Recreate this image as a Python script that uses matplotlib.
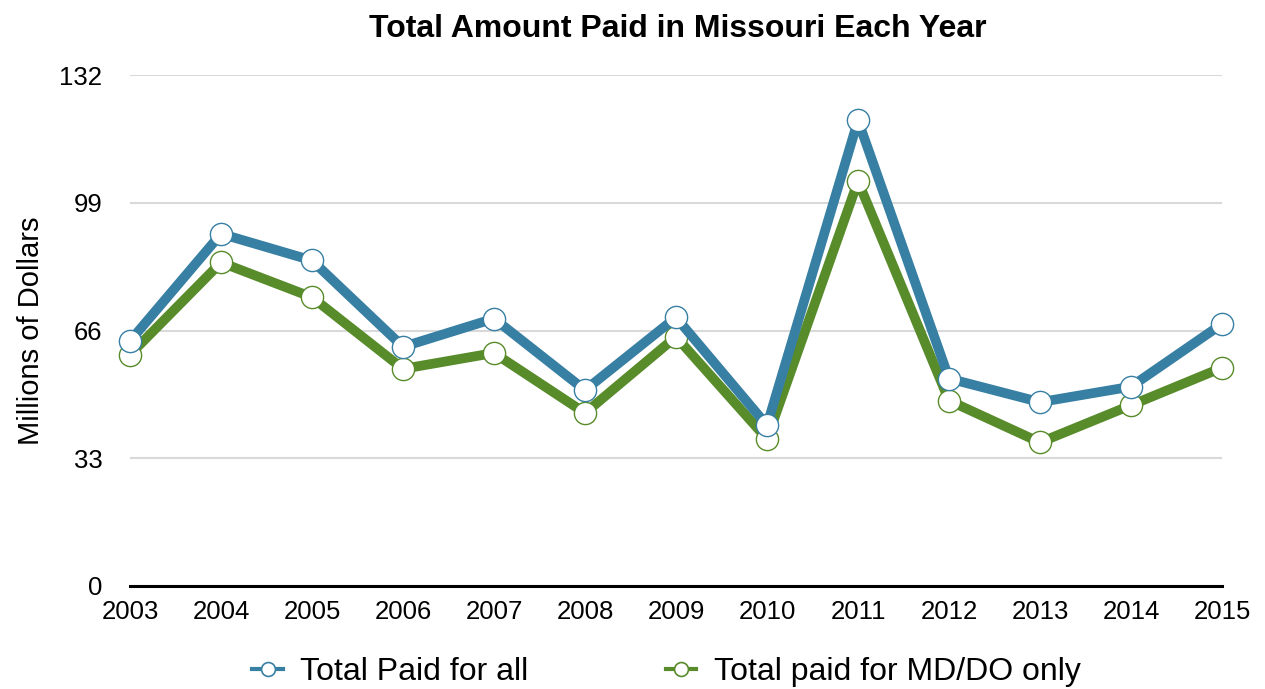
"""
Line chart of the total amount paid in Missouri each year (2003-2015).
Saves out.png.
"""

import matplotlib

matplotlib.use("Agg")
import matplotlib.pyplot as plt
from matplotlib.lines import Line2D

years = [2003, 2004, 2005, 2006, 2007, 2008, 2009, 2010, 2011, 2012, 2013, 2014, 2015]
total_all = [63.3, 91.0, 84.1, 61.8, 69.1, 50.6, 69.4, 41.5, 120.3, 53.6, 47.5, 51.5, 67.7]
total_mddo = [59.8, 83.6, 74.6, 56.1, 60.2, 44.7, 64.4, 38.0, 104.6, 47.9, 37.1, 46.7, 56.4]
y_ticks = [0, 33, 66, 99, 132]

BLUE = "#377fa3"
GREEN = "#588b2a"

plt.rcParams["font.family"] = ["Liberation Sans", "DejaVu Sans"]


def main() -> None:
    fig = plt.figure(figsize=(12.65, 6.89), dpi=100)
    ax = fig.add_axes([0.1028, 0.1495, 0.8632, 0.7415])

    for vals, col, z in ((total_mddo, GREEN, 3), (total_all, BLUE, 4)):
        ax.plot(
            years,
            vals,
            color=col,
            linewidth=7,
            marker="o",
            markersize=16,
            markerfacecolor="white",
            markeredgecolor=col,
            markeredgewidth=1.0,
            clip_on=False,
            zorder=z,
        )

    ax.set_xlim(years[0], years[-1])
    ax.set_ylim(0, 132)
    ax.set_xticks(years)
    ax.set_yticks(y_ticks)
    ax.tick_params(axis="both", length=0, labelsize=18.5)
    ax.tick_params(axis="y", pad=20)
    ax.tick_params(axis="x", pad=10)
    ax.yaxis.grid(True, color="#d9d9d9", linewidth=1.5)
    ax.set_axisbelow(True)
    for s in ("top", "right", "left"):
        ax.spines[s].set_visible(False)
    ax.spines["bottom"].set_linewidth(2.2)
    ax.spines["bottom"].set_color("black")
    ax.spines["bottom"].set_zorder(2)

    ax.set_ylabel("Millions of Dollars", fontsize=21, labelpad=10)
    fig.suptitle(
        "Total Amount Paid in Missouri Each Year",
        fontsize=23,
        fontweight="bold",
        x=0.536,
        y=0.98,
    )

    # legend handles: short line with open circle
    handles = [
        Line2D([0], [0], color=c, linewidth=3, marker="o", markersize=10,
               markerfacecolor="white", markeredgecolor=c, markeredgewidth=1.2)
        for c in (BLUE, GREEN)
    ]
    fig.legend(
        handles,
        ["Total Paid for all", "Total paid for MD/DO only"],
        loc="center",
        bbox_to_anchor=(0.527, 0.024),
        ncol=2,
        frameon=False,
        fontsize=23,
        handlelength=0.95,
        handletextpad=0.55,
        columnspacing=4.3,
    )

    fig.savefig("out.png", dpi=100)
    plt.close(fig)


if __name__ == "__main__":
    main()
